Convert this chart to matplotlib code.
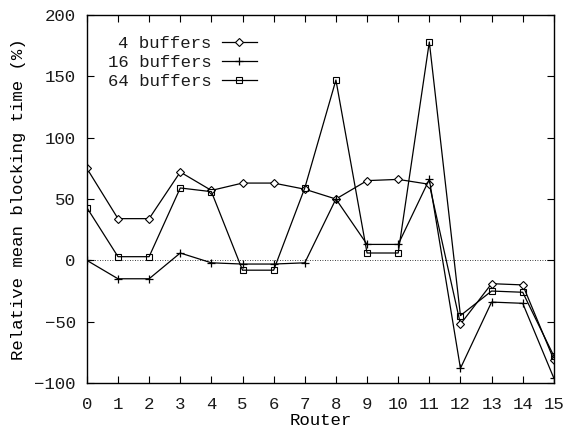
import matplotlib
matplotlib.use("Agg")
from matplotlib import pyplot as plt

routers = list(range(16))
buf4 = [75, 34, 34, 72, 57, 63, 63, 58, 50, 65, 66, 62, -52, -19, -20, -81]
buf16 = [0, -15, -15, 6, -2, -3, -3, -2, 50, 13, 13, 66, -88, -34, -35, -96]
buf64 = [43, 3, 3, 59, 56, -8, -8, 59, 147, 6, 6, 178, -45, -25, -26, -78]

plt.rcParams["font.family"] = ["Liberation Mono", "DejaVu Sans Mono"]
plt.rcParams["font.size"] = 12.5
plt.rcParams["text.color"] = "#1a1a1a"
plt.rcParams["xtick.labelcolor"] = "#1a1a1a"
plt.rcParams["ytick.labelcolor"] = "#1a1a1a"

fig = plt.figure(figsize=(5.64, 4.28), dpi=100)
ax = fig.add_axes([0.154, 0.105, 0.828, 0.86])

ax.axhline(0, color="black", linestyle=(0, (1, 2)), linewidth=0.6, zorder=1)
ax.plot(routers, buf4, color="black", linewidth=0.9, marker="D", markersize=3.6,
        markerfacecolor="white", markeredgewidth=0.8, label="4 buffers")
ax.plot(routers, buf16, color="black", linewidth=0.9, marker="+", markersize=6,
        markeredgewidth=0.9, label="16 buffers")
ax.plot(routers, buf64, color="black", linewidth=0.9, marker="s", markersize=5,
        markerfacecolor="none", markeredgewidth=0.8, label="64 buffers")

ax.set_xlim(0, 15)
ax.set_ylim(-100, 200)
ax.set_xticks(routers)
ax.set_yticks(range(-100, 201, 50))
ax.tick_params(direction="in", top=True, right=True, length=5, width=0.8)
ax.tick_params(axis="x", pad=10)
ax.tick_params(axis="y", pad=8)
for s in ax.spines.values():
    s.set_linewidth(1.0)

ax.set_xlabel("Router", labelpad=1)
ax.set_ylabel("Relative mean blocking time (%)", labelpad=6)

ax.legend(loc="upper left", bbox_to_anchor=(0.03, 0.963), frameon=False,
          markerfirst=False, handlelength=2.0, handletextpad=0.6,
          labelspacing=0.22, borderaxespad=0.0)
leg = ax.get_legend()
for t in leg.get_texts():
    t.set_ha("right")
leg._legend_box.align = "right"

fig.savefig("out.png", dpi=100)
